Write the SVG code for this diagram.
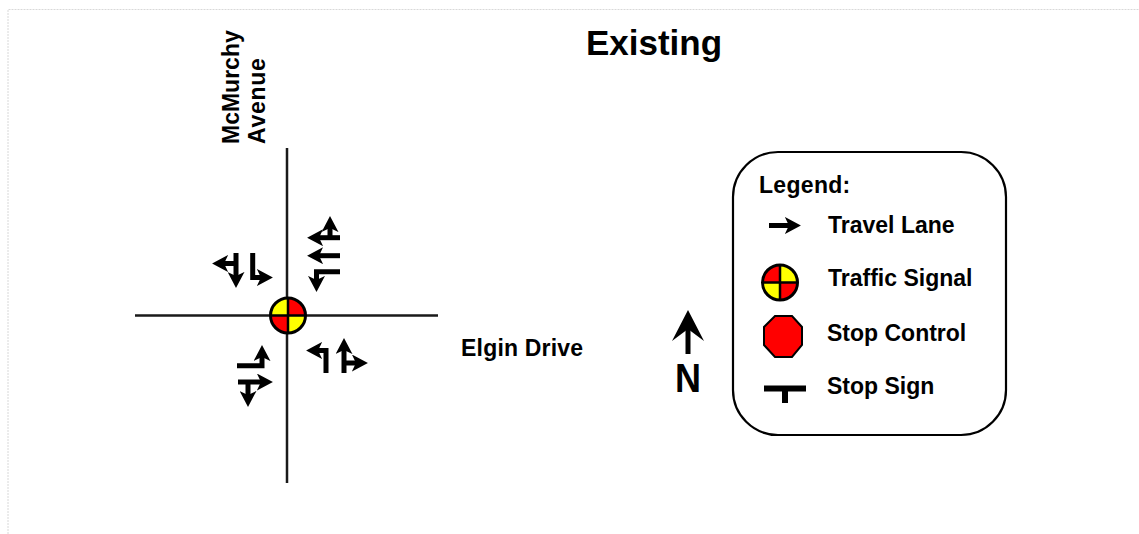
<svg xmlns="http://www.w3.org/2000/svg" width="1139" height="534" viewBox="0 0 1139 534">
<style>
text{font-family:"Liberation Sans",Arial,sans-serif;font-weight:bold;fill:#000}
.road{stroke:#1a1a1a;stroke-width:2.500;fill:none}
.lane{stroke:#000;stroke-width:5;fill:none}
.arrow{marker-end:url(#ah)}
.head{fill:#000}
.edge{stroke:#d8d8d8;stroke-width:1;stroke-dasharray:2 1;fill:none}
.lbl{font-size:23px}
</style>
<defs>
<marker id="ah" viewBox="0 0 10 10" refX="3.800" refY="5" markerWidth="3.200" markerHeight="3.400" orient="auto" markerUnits="strokeWidth" preserveAspectRatio="none"><path d="M0 0L10 5L0 10L2.500 5Z" fill="#000"/></marker>
<g id="sig">
<circle r="17.500" fill="#ff0"/>
<path d="M0 0V-17.500A17.500 17.500 0 0 1 17.500 0Z M0 0V17.500A17.500 17.500 0 0 1 -17.500 0Z" fill="#f00"/>
<path d="M0 -17.500V17.500M-17.500 0H17.500" stroke="#000" stroke-width="2.500"/>
<circle r="17.500" fill="none" stroke="#000" stroke-width="3"/>
</g>
</defs>
<path class="edge" d="M8 534V9.500H1139"/>
<text id="title" x="654" y="55" text-anchor="middle" font-size="35">Existing</text>
<g id="street-north">
<text transform="translate(238.500 144) rotate(-90)" class="lbl">McMurchy</text>
<text transform="translate(264.500 144) rotate(-90)" class="lbl" letter-spacing="0.700">Avenue</text>
</g>
<text id="street-east" x="461" y="356" class="lbl" letter-spacing="0.200">Elgin Drive</text>
<g id="connectors">
<path class="road" d="M287 148V483M135 315.500H438"/>
<path class="lane arrow" d="M340 237.700H317"/>
<path class="lane arrow" d="M330 237V226"/>
<path class="lane arrow" d="M340 255.700H317"/>
<path class="lane arrow" d="M340 271.700H316.500V282"/>
<path class="lane arrow" d="M236 253V278"/>
<path class="lane arrow" d="M236 263.500H222"/>
<path class="lane arrow" d="M252.700 253V277.500H263"/>
<path class="lane arrow" d="M326 373V350.500H316"/>
<path class="lane arrow" d="M344 373V348"/>
<path class="lane arrow" d="M344 363H358"/>
<path class="lane arrow" d="M237 365.700H262V355"/>
<path class="lane arrow" d="M238 382H263"/>
<path class="lane arrow" d="M248 382V397"/>
</g>
<use id="signal" href="#sig" transform="translate(288 315.500)"/>
<g id="north">
<path class="lane" d="M688 354V325"/>
<path class="head" d="M688 310L704 341L688 329L672 341Z"/>
<text x="675" y="392" font-size="40" textLength="26" lengthAdjust="spacingAndGlyphs">N</text>
</g>
<g id="legend">
<rect x="733" y="152" width="273" height="283" rx="45" fill="#fff" stroke="#000" stroke-width="2.200"/>
<text x="759" y="192.500" class="lbl" letter-spacing="0.300">Legend:</text>
<g id="legend-lane">
<path class="lane arrow" d="M769 225.500H791"/>
<text x="828" y="233" class="lbl">Travel Lane</text>
</g>
<g id="legend-signal">
<use href="#sig" transform="translate(780 282.500) rotate(90)"/>
<text x="828" y="286" class="lbl">Traffic Signal</text>
</g>
<g id="legend-stop">
<polygon points="775,316 792,316 802,327 802,345 792,357 775,357 764,345 764,327" fill="#f00" stroke="#000" stroke-width="2"/>
<text x="827" y="341" class="lbl">Stop Control</text>
</g>
<g id="legend-sign">
<path class="lane" style="stroke-width:6" d="M764 388.500H806M785 388.500V403"/>
<text x="827" y="394" class="lbl">Stop Sign</text>
</g>
</g>
</svg>
